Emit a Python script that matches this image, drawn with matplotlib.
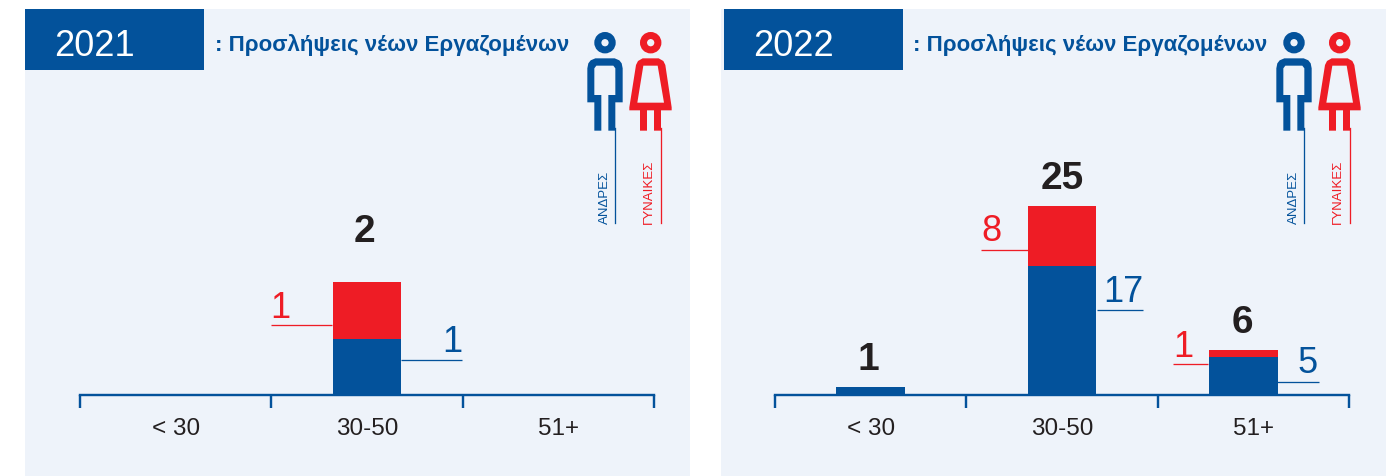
import matplotlib
matplotlib.use('Agg')
import matplotlib.pyplot as plt
from matplotlib.patches import Rectangle, Circle, PathPatch
from matplotlib.path import Path

plt.rcParams['font.family'] = ['Liberation Sans', 'DejaVu Sans']

W, H = 1400, 477

# Дані
age_groups = ['< 30', '30-50', '51+']
men_2021 = [0, 1, 0]
women_2021 = [0, 1, 0]
men_2022 = [1, 17, 5]
women_2022 = [0, 8, 1]
title = ': Προσλήψεις νέων Εργαζομένων'
men_label = 'ΑΝΔΡΕΣ'
women_label = 'ΓΥΝΑΙΚΕΣ'

BLUE = '#03529B'
RED = '#EE1C25'
BG = '#EEF3FA'
DARK = '#231F20'
PX = 0.72  # 1 пiксель у пунктах при dpi=100

fig = plt.figure(figsize=(W / 100, H / 100), dpi=100, facecolor='white')


def pixel_axes(zorder):
    a = fig.add_axes([0, 0, 1, 1], zorder=zorder)
    a.set_xlim(0, W)
    a.set_ylim(H - 1, -1)
    a.axis('off')
    return a


back = pixel_axes(0)
over = pixel_axes(5)


def man_icon(dx):
    pts = [(103, 392), (103, 307), (82, 307), (82, 205), (85, 190), (92, 181), (106, 175), (164, 175),
           (178, 181), (185, 190), (188, 205), (188, 307), (166, 307), (166, 392), (145, 392), (145, 285),
           (166, 285), (166, 205), (160, 197), (109, 197), (103, 205), (103, 285), (124, 285), (124, 392),
           (103, 392)]
    pts = [(560 + x / 3 + dx, y / 3) for x, y in pts]
    codes = [Path.MOVETO] + [Path.LINETO] * (len(pts) - 2) + [Path.CLOSEPOLY]
    over.add_patch(PathPatch(Path(pts, codes), fc=BLUE, ec='none'))
    over.add_patch(Circle((605 + dx, 42.7), 7.2, fc='none', ec=BLUE, lw=7 * PX))


def woman_icon(dx):
    outer = [(240, 392), (240, 331), (208, 331), (208, 322), (228, 195), (234, 183), (248, 175), (296, 175),
             (310, 183), (316, 195), (335, 322), (335, 331), (303, 331), (303, 392), (282, 392), (282, 331),
             (261, 331), (261, 392), (240, 392)]
    inner = [(250, 197), (232, 308), (312, 308), (293, 197), (250, 197)]
    verts, codes = [], []
    for ring in (outer, inner):
        verts += [(560 + x / 3 + dx, y / 3) for x, y in ring]
        codes += [Path.MOVETO] + [Path.LINETO] * (len(ring) - 2) + [Path.CLOSEPOLY]
    over.add_patch(PathPatch(Path(verts, codes), fc=RED, ec='none'))
    over.add_patch(Circle((650.7 + dx, 42.7), 7.2, fc='none', ec=RED, lw=7 * PX))


def draw_panel(year, men, women, unit_px, left, panel, box_x, title_x, icon_dx, bar_shift):
    back.add_patch(Rectangle((panel[0], 9), panel[1] - panel[0], H - 9, fc=BG, ec='none'))
    back.add_patch(Rectangle((box_x, 9), 179, 61, fc=BLUE, ec='none'))
    over.text(box_x + 29, 42, year, color='white', fontsize=26, ha='left', va='center_baseline')
    over.text(title_x, 42, title, color=BLUE, fontsize=16, fontweight='bold', ha='left', va='center_baseline')

    man_icon(icon_dx)
    woman_icon(icon_dx)
    over.plot([614.7 + icon_dx] * 2, [128, 223], color=BLUE, lw=1.3 * PX)
    over.plot([660.7 + icon_dx] * 2, [128, 223], color=RED, lw=1.3 * PX)
    over.text(604.5 + icon_dx, 223, men_label, color=BLUE, fontsize=9.5, rotation=90, ha='center', va='bottom')
    over.text(648.7 + icon_dx, 223, women_label, color=RED, fontsize=9.5, rotation=90, ha='center', va='bottom')

    # Вісь графіка: 574 пікселі завширшки, основа на y=395
    ax = fig.add_axes([left / W, (H - 396) / H, 574 / W, 315 / H], zorder=2)
    ax.patch.set_alpha(0)
    x = [i + 0.5 + s for i, s in enumerate(bar_shift)]
    ax.bar(x, men, width=0.36, color=BLUE)
    ax.bar(x, women, width=0.36, bottom=men, color=RED)
    ax.set_xlim(0, 3)
    ax.set_ylim(0, 315 / unit_px)
    ax.set_yticks([])
    for s in ('top', 'left', 'right'):
        ax.spines[s].set_visible(False)
    ax.spines['bottom'].set_color(BLUE)
    ax.spines['bottom'].set_linewidth(2.4 * PX)
    ax.set_xticks([0, 1, 2, 3])
    ax.set_xticklabels([])
    ax.tick_params(axis='x', which='major', length=13 * PX, width=2.4 * PX, color=BLUE)
    ax.set_xticks([0.5, 1.5, 2.5], minor=True)
    ax.set_xticklabels(age_groups, minor=True, fontsize=17.5, color=DARK)
    ax.tick_params(axis='x', which='minor', length=0, pad=16)
    return ax


def leader(x0, x1, y, value, tx, ty, color, ha='center'):
    over.plot([x0, x1], [y, y], color=color, lw=1.3 * PX, solid_capstyle='butt')
    over.text(tx, ty, str(value), color=color, fontsize=26, ha=ha, va='baseline')


def total(x, y, value):
    over.text(x, y, str(value), color=DARK, fontsize=28, fontweight='bold', ha='center', va='baseline')


draw_panel('2021', men_2021, women_2021, 56.5, 80, (25, 690), 25, 215, 0, [0, 0, 0])
draw_panel('2022', men_2022, women_2022, 7.56, 775, (721, 1386), 724, 913, 689, [0, 0, -0.05])

total(364.5, 241, men_2021[1] + women_2021[1])
leader(271, 332, 325.5, women_2021[1], 280, 317, RED)
leader(401, 462, 359.7, men_2021[1], 452, 351, BLUE)

total(868.5, 369, men_2022[0] + women_2022[0])
total(1062, 188.5, men_2022[1] + women_2022[1])
total(1242.5, 332.5, men_2022[2] + women_2022[2])
leader(981, 1028, 250, women_2022[1], 991, 240, RED)
leader(1097, 1143, 310, men_2022[1], 1123, 301, BLUE)
leader(1173, 1208, 364.5, women_2022[2], 1183, 356, RED)
leader(1277, 1319, 381.7, men_2022[2], 1308, 372, BLUE)

fig.savefig('out.png', dpi=100, facecolor='white')
